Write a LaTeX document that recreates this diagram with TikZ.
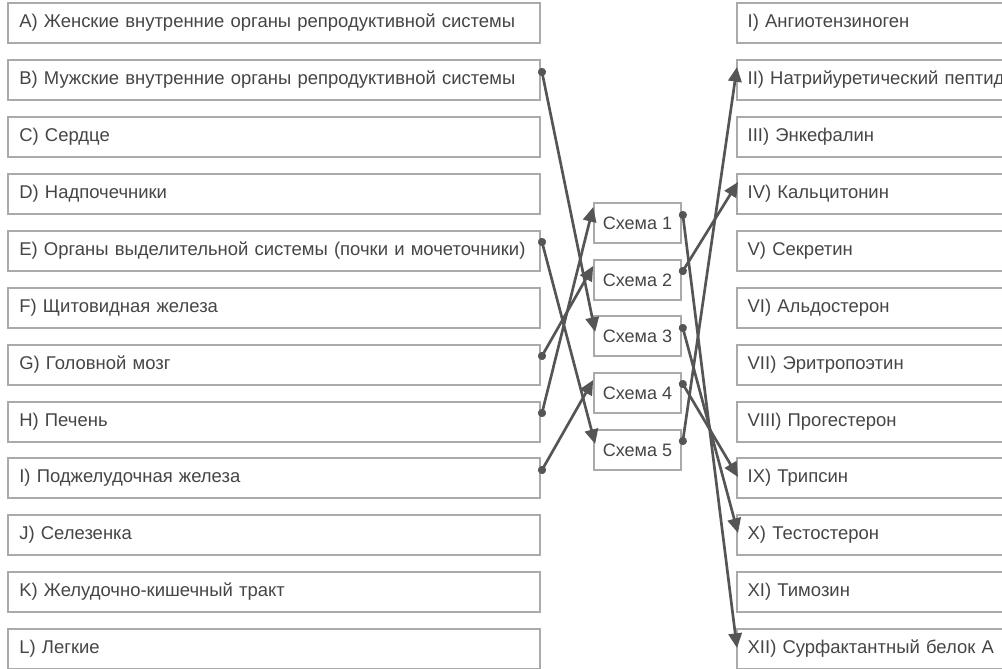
\documentclass[tikz,border=0pt]{standalone}
\usepackage{fontspec}
\setmainfont{Liberation Sans}
\usetikzlibrary{arrows.meta,calc}
\definecolor{txt}{HTML}{454545}
\definecolor{bord}{HTML}{AAAAAA}
\definecolor{arr}{HTML}{555555}
\begin{document}
\begin{tikzpicture}[x=0.75pt,y=-0.75pt,
  every node/.style={font=\fontsize{13.85pt}{16pt}\selectfont, text=txt},
  lbox/.style={draw=bord, line width=1.5pt, rectangle, anchor=west, minimum height=30pt, text width=382pt, inner xsep=8.5pt, align=left},
  rbox/.style={draw=bord, line width=1.5pt, rectangle, anchor=west, minimum height=30pt, text width=300pt, inner xsep=8pt, align=left},
  mbox/.style={draw=bord, line width=1.5pt, rectangle, minimum height=30pt, minimum width=65pt, inner xsep=0pt, font=\fontsize{13.5pt}{16pt}\selectfont},
  conn/.style={draw=arr, line width=2pt, {Circle[length=6pt]}-{Triangle[length=11pt,width=10pt]}, shorten <=-3pt}
]
\useasboundingbox (0,0) rectangle (1002,668);
\clip (0,0) rectangle (1002,668);
% left column
\node[lbox] (A) at (7,23) {А) Женские внутренние органы репродуктивной системы};
\node[lbox] (B) at (7,80) {В) Мужские внутренние органы репродуктивной системы};
\node[lbox] (C) at (7,137) {С) Сердце};
\node[lbox] (D) at (7,194) {D) Надпочечники};
\node[lbox] (E) at (7,251) {E) Органы выделительной системы (почки и мочеточники)};
\node[lbox] (F) at (7,308) {F) Щитовидная железа};
\node[lbox] (G) at (7,365) {G) Головной мозг};
\node[lbox] (H) at (7,422) {H) Печень};
\node[lbox] (I) at (7,478) {I) Поджелудочная железа};
\node[lbox] (J) at (7,535) {J) Селезенка};
\node[lbox] (K) at (7,592) {K) Желудочно-кишечный тракт};
\node[lbox] (L) at (7,649) {L) Легкие};
% middle column
\node[mbox] (S1) at (637.5,223) {Схема 1};
\node[mbox] (S2) at (637.5,280) {Схема 2};
\node[mbox] (S3) at (637.5,336) {Схема 3};
\node[mbox] (S4) at (637.5,393) {Схема 4};
\node[mbox] (S5) at (637.5,450) {Схема 5};
% right column
\node[rbox] (R1) at (736,23) {I) Ангиотензиноген};
\node[rbox] (R2) at (736,80) {II) Натрийуретический пептид};
\node[rbox] (R3) at (736,137) {III) Энкефалин};
\node[rbox] (R4) at (736,194) {IV) Кальцитонин};
\node[rbox] (R5) at (736,251) {V) Секретин};
\node[rbox] (R6) at (736,308) {VI) Альдостерон};
\node[rbox] (R7) at (736,365) {VII) Эритропоэтин};
\node[rbox] (R8) at (736,422) {VIII) Прогестерон};
\node[rbox] (R9) at (736,478) {IX) Трипсин};
\node[rbox] (R10) at (736,535) {X) Тестостерон};
\node[rbox] (R11) at (736,592) {XI) Тимозин};
\node[rbox] (R12) at (736,649) {XII) Сурфактантный белок А};
% connectors left -> middle
\draw[conn] ($(B.east)+(1,-8)$) -- ($(S3.west)+(2,-4)$);
\draw[conn] ($(E.east)+(1,-9)$) -- ($(S5.west)+(2,-6)$);
\draw[conn] ($(G.east)+(1,-9)$) -- ($(S2.west)+(0,-14)$);
\draw[conn] ($(H.east)+(1,-9)$) -- ($(S1.west)+(0,-16)$);
\draw[conn] ($(I.east)+(1,-8)$) -- ($(S4.west)+(0,-13)$);
% connectors middle -> right
\draw[conn] ($(S1.east)+(1,-8)$) -- ($(R12.west)+(1,-1)$);
\draw[conn] ($(S2.east)+(1,-9)$) -- ($(R4.west)+(2,-12)$);
\draw[conn] ($(S3.east)+(1,-8)$) -- ($(R10.west)+(2,-2)$);
\draw[conn] ($(S4.east)+(1,-9)$) -- ($(R9.west)+(2,-1)$);
\draw[conn] ($(S5.east)+(1,-9)$) -- ($(R2.west)+(1,-13)$);
\end{tikzpicture}
\end{document}
